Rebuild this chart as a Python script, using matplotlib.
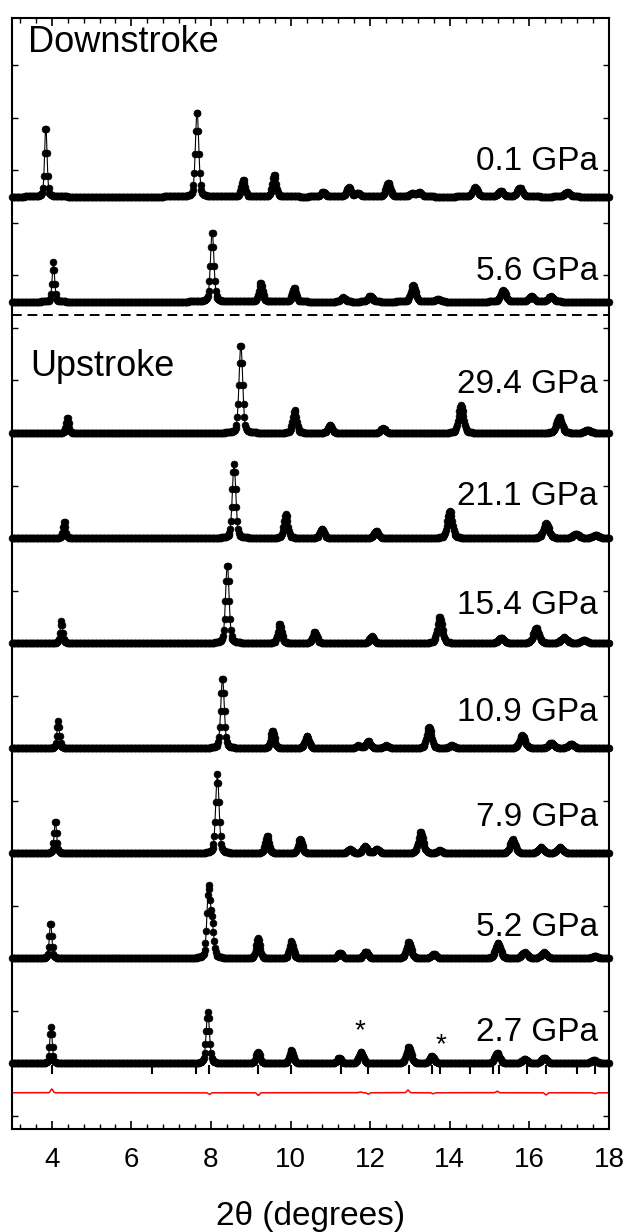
import numpy as np
import matplotlib
matplotlib.use("Agg")
import matplotlib.pyplot as plt
from matplotlib.ticker import MultipleLocator, AutoMinorLocator

plt.rcParams['font.family'] = ['Liberation Sans', 'DejaVu Sans']

# peak lists (2theta, height) for each pressure, plus vertical offset of each trace
labels = ["0.1 GPa", "5.6 GPa", "29.4 GPa", "21.1 GPa", "15.4 GPa",
          "10.9 GPa", "7.9 GPa", "5.2 GPa", "2.7 GPa"]
offsets = [17.5, 15.5, 13, 11, 9, 7, 5, 3, 1]
label_y = [18.17, 16.08, 13.93, 11.79, 9.71, 7.68, 5.68, 3.58, 1.58]

pos_01 = [3.85, 7.65, 8.81, 9.59, 10.82, 11.46, 11.69, 12.45, 13.05, 13.23, 14.64, 15.28, 15.76, 16.95]
hgt_01 = [1.36, 1.65, 0.33, 0.43, 0.09, 0.18, 0.07, 0.27, 0.06, 0.08, 0.18, 0.11, 0.17, 0.08]
pos_56 = [4.04, 8.03, 9.25, 10.09, 11.32, 12.00, 13.08, 13.70, 15.34, 16.05, 16.54]
hgt_56 = [0.75, 1.35, 0.36, 0.27, 0.08, 0.11, 0.32, 0.05, 0.22, 0.10, 0.10]
pos_294 = [4.39, 8.75, 10.10, 10.99, 12.32, 14.28, 16.75, 17.47]
hgt_294 = [0.30, 1.70, 0.43, 0.15, 0.09, 0.53, 0.30, 0.06]
pos_211 = [4.31, 8.58, 9.88, 10.79, 12.15, 14.00, 16.42, 17.17, 17.67]
hgt_211 = [0.33, 1.41, 0.46, 0.18, 0.14, 0.52, 0.28, 0.08, 0.06]
pos_154 = [4.24, 8.41, 9.73, 10.61, 12.04, 13.75, 15.29, 16.17, 16.87, 17.37]
hgt_154 = [0.43, 1.52, 0.38, 0.22, 0.13, 0.51, 0.10, 0.29, 0.11, 0.06]
pos_109 = [4.16, 8.29, 9.55, 10.41, 11.70, 11.95, 12.40, 13.48, 14.05, 15.82, 16.55, 17.05]
hgt_109 = [0.51, 1.35, 0.34, 0.24, 0.05, 0.13, 0.05, 0.41, 0.05, 0.25, 0.10, 0.08]
pos_79 = [4.09, 8.16, 9.41, 10.24, 11.49, 11.87, 12.17, 13.27, 13.75, 15.58, 16.29, 16.77]
hgt_79 = [0.62, 1.51, 0.33, 0.27, 0.08, 0.14, 0.08, 0.41, 0.05, 0.27, 0.11, 0.11]
pos_52 = [3.97, 7.94, 8.03, 9.18, 10.02, 11.24, 11.89, 12.97, 13.60, 15.21, 15.88, 16.37, 17.65]
hgt_52 = [0.70, 1.31, 0.55, 0.38, 0.32, 0.10, 0.13, 0.32, 0.08, 0.29, 0.11, 0.11, 0.04]
pos_27 = [3.98, 7.92, 9.18, 10.02, 11.22, 11.77, 12.97, 13.55, 15.19, 15.88, 16.37, 17.62]
hgt_27 = [0.70, 0.97, 0.22, 0.25, 0.10, 0.22, 0.32, 0.14, 0.20, 0.08, 0.11, 0.06]

peak_pos = [pos_01, pos_56, pos_294, pos_211, pos_154, pos_109, pos_79, pos_52, pos_27]
peak_hgt = [hgt_01, hgt_56, hgt_294, hgt_211, hgt_154, hgt_109, hgt_79, hgt_52, hgt_27]

# refinement: difference curve features and reflection markers for 2.7 GPa
diff_offset = 0.44
diff_pos = [4.00, 7.96, 9.19, 11.75, 11.95, 12.95, 13.58, 15.19, 16.42, 17.65]
diff_amp = [0.07, -0.03, -0.05, 0.015, -0.025, 0.05, -0.02, 0.03, -0.04, -0.02]
refl_pos = [4.00, 6.51, 7.62, 7.96, 9.19, 10.00, 11.26, 11.94, 12.98, 13.56, 13.75,
            14.52, 15.08, 15.23, 15.93, 16.42, 17.19, 17.65]
star_x = [11.73, 13.78]
star_y = [1.61, 1.35]


def profile(x, pos, hgt, eta=0.3):
    # peaks broaden with angle
    y = np.zeros_like(x)
    for p, h in zip(pos, hgt):
        fwhm = 0.045 + 0.007 * p
        d = (x - p) / fwhm
        y += h * ((1 - eta) * np.exp(-4 * np.log(2) * d ** 2) + eta / (1 + 4 * d ** 2))
    return y


x = np.arange(3.0, 18.0001, 0.02)

fig = plt.figure(figsize=(6.28, 12.32), dpi=100)
ax = fig.add_axes([12 / 628, (1232 - 1129) / 1232, (609 - 12) / 628, (1129 - 18) / 1232])

for lab, off, ly, pp, hh in zip(labels, offsets, label_y, peak_pos, peak_hgt):
    y = off + profile(x, pp, hh)
    ax.plot(x, y, color='black', lw=0.8, marker='o', ms=4.9, mfc='black', mec='black',
            mew=0.5, clip_on=False, zorder=3)
    ax.text(17.72, ly, lab, ha='right', va='center', fontsize=24)

# difference curve
xd = np.arange(3.0, 18.0001, 0.01)
yd = diff_offset
for p, a in zip(diff_pos, diff_amp):
    yd = yd + a * np.exp(-4 * np.log(2) * ((xd - p) / 0.07) ** 2)
ax.plot(xd, yd, color='#ff0000', lw=1.1, zorder=2)

ax.vlines(refl_pos, 0.80, 0.96, color='black', lw=1.5, zorder=1)
for sx, sy in zip(star_x, star_y):
    ax.text(sx, sy, '*', ha='center', va='center', fontsize=20)

ax.axhline(15.24, color='black', lw=1.4, ls=(0, (5, 3)))

ax.text(3.4, 20.44, 'Downstroke', ha='left', va='center', fontsize=26)
ax.text(3.45, 14.27, 'Upstroke', ha='left', va='center', fontsize=26)

ax.set_xlim(3, 18)
ax.set_ylim(-0.25, 20.9)
ax.xaxis.set_major_locator(MultipleLocator(2))
ax.xaxis.set_minor_locator(AutoMinorLocator(5))
ax.yaxis.set_major_locator(MultipleLocator(1))
ax.tick_params(axis='x', which='major', direction='in', top=True, length=6, width=1.2,
               labelsize=20, pad=13)
ax.tick_params(axis='x', which='minor', direction='in', top=True, length=3.5, width=1.0)
ax.tick_params(axis='y', which='major', direction='in', right=True, length=4, width=1.0,
               labelleft=False)
for s in ax.spines.values():
    s.set_linewidth(1.5)

ax.set_xlabel('2θ (degrees)', fontsize=24, labelpad=20)

fig.savefig('out.png', dpi=100)
